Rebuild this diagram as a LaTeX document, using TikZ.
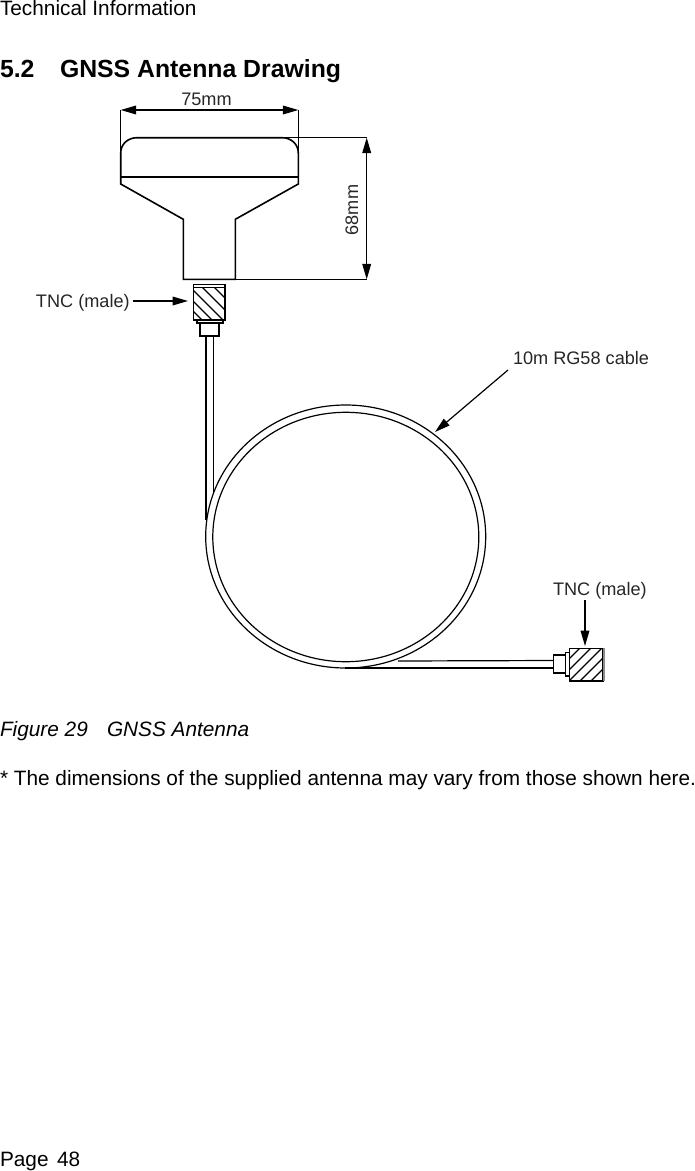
\documentclass[tikz,border=0pt]{standalone}
\usepackage{fontspec}
\setmainfont{Liberation Sans}
\usetikzlibrary{arrows.meta}
\tikzset{
  txt/.style={anchor=base west,inner sep=0pt,outer sep=0pt,font=\fontsize{15.6}{18}\selectfont,text=black},
  ital/.style={txt,font=\fontsize{15.6}{18}\itshape\selectfont},
  lbl/.style={inner sep=0pt,outer sep=0pt,font=\fontsize{13.6}{16}\selectfont,text=black!85},
  ttl/.style={anchor=base west,inner sep=0pt,outer sep=0pt,font=\fontsize{18.6}{22}\bfseries\selectfont,text=black},
  part/.style={draw=black,line width=1.2pt,line join=miter},
  thinpart/.style={draw=black,line width=0.9pt},
  hatch/.style={draw=black,line width=0.9pt},
  tip/.style={draw=black,line width=0.9pt,{-{Triangle[length=11.5pt,width=6.5pt]}}},
  dimline/.style={draw=black,line width=0.9pt,{{Triangle[length=11.5pt,width=6.5pt]}-{Triangle[length=11.5pt,width=6.5pt]}}}
}
\begin{document}
\begin{tikzpicture}[x=0.75pt,y=-0.75pt]
\useasboundingbox (0,0) rectangle (695,1171);
% page text
\node[txt] (head) at (0,15) {Technical Information};
\node[ttl] (secno) at (0,77) {5.2};
\node[ttl] (sectitle) at (60,77) {GNSS Antenna Drawing};
\node[ital] (fig) at (0,736.5) {Figure 29};
\node[ital] (figname) at (107,736.5) {GNSS Antenna};
\node[txt] (note) at (0,785) {* The dimensions of the supplied antenna may vary from those shown here.};
\node[txt] (page) at (0,1166.5) {Page};
\node[txt] (pageno) at (57,1166.5) {48};
% antenna
\coordinate (dimL) at (120.7,110);
\coordinate (dimR) at (298.3,110);
\coordinate (dimT) at (366.7,137.7);
\coordinate (dimB) at (366.7,279.3);
\draw[part] (120.7,184) -- (120.7,153) .. controls (120.7,144) and (128,137.7) .. (137,137.7)
  -- (282,137.7) .. controls (291,137.7) and (298.3,144) .. (298.3,153) -- (298.3,184)
  -- (235.3,219.3) -- (235.3,279.3) -- (183.3,279.3) -- (183.3,219.3) -- cycle;
\draw[part] (120.7,176.7) -- (298.3,176.7);
\draw[thinpart] (dimL) -- (120.7,153);
\draw[thinpart] (dimR) -- (298.3,153);
\draw[thinpart] (282,137.7) -- (dimT);
\draw[thinpart] (235.3,279.3) -- (dimB);
\draw[dimline] (dimL) -- (dimR);
\draw[dimline] (dimT) -- (dimB);
\node[lbl] (w) at (206.5,99.5) {75mm};
\node[lbl,rotate=90] (h) at (352,210) {68mm};
% top connector
\begin{scope}
\clip (193.3,284.3) rectangle (225,320);
\foreach \c in {-118,-108,-97,-85,-73,-63}
  \draw[hatch] (193.3,193.3-\c) -- (233.3,233.3-\c);
\end{scope}
\fill[white] (193.3,284.3) rectangle (225,287.5);
\draw[part] (193.3,284.3) rectangle (225,320);
\draw[thinpart] (193.3,287.5) -- (225,287.5);
\draw[part] (196.7,320) rectangle (222.7,323);
\draw[part,line width=1.4pt] (200,323) rectangle (219.3,336);
% coil
\draw[thinpart] (345.7,536.5) ellipse [x radius=140,y radius=131.5];
\draw[thinpart] (345.8,537) ellipse [x radius=133,y radius=124.7];
\coordinate (cabA) at (205.7,336);
\coordinate (cabB) at (213.6,336);
\coordinate (cabC) at (553.3,668);
\coordinate (cabD) at (553.3,660.5);
\draw[part] (cabA) -- (205.7,520);
\draw[thinpart] (cabB) -- (213.6,494);
\draw[part] (cabC) -- (345,668);
\draw[thinpart] (cabD) -- (398,661);
% bottom connector
\begin{scope}
\clip (569.3,648.3) rectangle (602.7,680.7);
\foreach \c in {1228,1239,1250,1261,1272}
  \draw[hatch] (520,\c-520) -- (620,\c-620);
\end{scope}
\draw[thinpart] (553.3,655) rectangle (565.7,673);
\draw[thinpart] (565.7,652.7) rectangle (569.3,676);
\draw[part] (569.3,648.3) rectangle (602.7,680.7);
\fill[black!45] (603.2,648.3) rectangle (605.3,680.7);
% callouts
\node[lbl,anchor=base west] (tnc1) at (36,307.5) {TNC (male)};
\node[lbl,anchor=base west] (cable) at (513,364) {10m RG58 cable};
\node[lbl,anchor=base west] (tnc2) at (553,595) {TNC (male)};
\coordinate (tnc1tip) at (188,301);
\coordinate (cabletip) at (435,432);
\coordinate (tnc2tip) at (585,646);
\draw[tip] (133,301) coordinate (tnc1s) (tnc1s) -- (tnc1tip);
\draw[tip] (508,370) coordinate (cables) (cables) -- (cabletip);
\draw[tip] (585,600) coordinate (tnc2s) (tnc2s) -- (tnc2tip);
\end{tikzpicture}
\end{document}
